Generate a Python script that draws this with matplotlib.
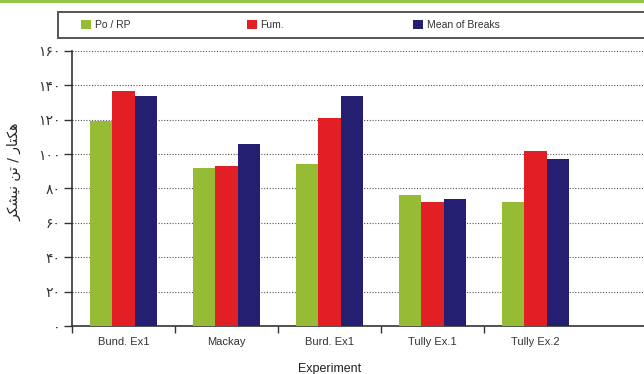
import numpy as np
import matplotlib.pyplot as plt
from matplotlib.patches import Rectangle, Patch

# --- Dados ---
experimentos = ["Bund. Ex1", "Mackay", "Burd. Ex1", "Tully Ex.1", "Tully Ex.2"]
po_rp = [119, 92, 94, 76, 72]
fum = [137, 93, 121, 72, 102]
mean_breaks = [134, 106, 134, 74, 97]

series = ["Po / RP", "Fum.", "Mean of Breaks"]
cores = ["#96bc35", "#e31f26", "#241f70"]

y_ticks = [0, 20, 40, 60, 80, 100, 120, 140, 160]

# Dígitos persas para os rótulos do eixo y
digitos_fa = "۰۱۲۳۴۵۶۷۸۹"


def para_persa(n):
    return "".join(digitos_fa[int(c)] for c in str(n))


# Rótulo do eixo y em formas de apresentação (matplotlib não faz shaping de árabe)
# lógico: هکتار / تن نیشکر
formas = [
    "\uFEEB", "\uFB91", "\uFE98", "\uFE8E", "\uFEAD",  # هکتار
    " ", "/", " ",
    "\uFE97", "\uFEE6",  # تن
    " ",
    "\uFEE7", "\uFBFF", "\uFEB8", "\uFB91", "\uFEAE",  # نیشکر
]
rotulo_y = "".join(formas)[::-1]

plt.rcParams['font.family'] = ['Liberation Sans', 'DejaVu Sans']

fig = plt.figure(figsize=(6.44, 3.74), dpi=100)

# faixa verde no topo
fig.patches.append(Rectangle((0, 1 - 3 / 374), 1, 3 / 374, transform=fig.transFigure,
                             facecolor="#93c444", edgecolor="none"))

# caixa da legenda
fig.patches.append(Rectangle((58 / 644, 1 - 38 / 374), 0.95, 26 / 374, transform=fig.transFigure,
                             facecolor="white", edgecolor="#555555", linewidth=1.4))

ax = fig.add_axes([72 / 644, 48 / 374, 576.8 / 644, 275 / 374])

x = np.arange(len(experimentos))
largura = 0.22
for i, (valores, cor) in enumerate(zip([po_rp, fum, mean_breaks], cores)):
    ax.bar(x + (i - 1) * largura, valores, largura, color=cor, zorder=3)

ax.set_xlim(-0.5, 5.1)
ax.set_ylim(0, 160)

# grade pontilhada
for v in y_ticks[1:]:
    ax.axhline(v, color="#555555", linestyle=(0, (1, 1.5)), linewidth=0.8, zorder=1)

ax.set_yticks(y_ticks)
ax.set_yticklabels([para_persa(v) for v in y_ticks], family="DejaVu Sans", fontsize=10,
                   color="#333333")
ax.tick_params(axis="y", length=6, width=1, color="#333333", pad=2)

# ticks maiores nas divisões, rótulos nos centros
ax.set_xticks(np.arange(-0.5, 4.0, 1.0))
ax.set_xticklabels([])
ax.set_xticks(x, minor=True)
ax.set_xticklabels(experimentos, minor=True, fontsize=8, color="#333333")
ax.tick_params(axis="x", which="major", length=5, width=1, color="#333333")
ax.tick_params(axis="x", which="minor", length=0, pad=8)

for lado in ["top", "right"]:
    ax.spines[lado].set_visible(False)
for lado in ["left", "bottom"]:
    ax.spines[lado].set_color("#333333")
    ax.spines[lado].set_linewidth(1.2)

ax.set_xlabel("Experiment", fontsize=9, color="#222222")
ax.xaxis.set_label_coords(2.5 / 5.6, -0.135)

fig.text(14 / 644, 1 - 172 / 374, rotulo_y, family="DejaVu Sans", fontsize=10,
         rotation=90, ha="center", va="center", color="#222222")

# legendas individuais para espaçar como no layout
posicoes = [86, 252, 418]
for nome, cor, px in zip(series, cores, posicoes):
    leg = fig.legend(handles=[Patch(facecolor=cor, edgecolor="none")], labels=[nome],
                     loc="center left", bbox_to_anchor=((px - 5) / 644, 1 - 25 / 374),
                     frameon=False, fontsize=7.5, handlelength=1.0, handleheight=1.0,
                     handletextpad=0.3, borderpad=0, borderaxespad=0)
    for t in leg.get_texts():
        t.set_color("#333333")

fig.savefig("out.png", dpi=100)
